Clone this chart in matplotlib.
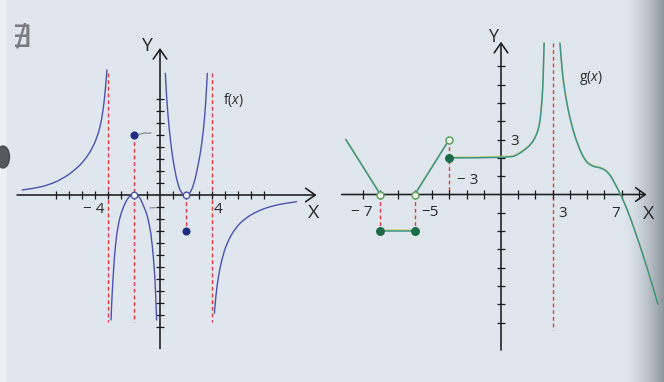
import numpy as np
import matplotlib
matplotlib.use("Agg")
import matplotlib.pyplot as plt
import matplotlib.patheffects as pe
from matplotlib.patches import Ellipse, PathPatch
from matplotlib.path import Path

plt.rcParams["font.family"] = ["Open Sans", "DejaVu Sans"]
plt.rcParams["mathtext.fontset"] = "custom"
plt.rcParams["mathtext.rm"] = "Open Sans"
plt.rcParams["mathtext.it"] = "Open Sans:italic"

# ---------------- f(x) ----------------
F_LEFT_X = [-10.59, -9.62, -8.59, -7.56, -6.54, -5.77, -5.13, -4.74, -4.49, -4.31, -4.18, -4.08]
F_LEFT_Y = [0.42, 0.56, 0.83, 1.31, 2.08, 2.92, 4.03, 5.14, 6.25, 7.64, 9.03, 10.42]

F_MID_X = [-3.77, -3.72, -3.62, -3.51, -3.33, -3.08, -2.88, -2.69, -2.5, -2.3, -2.0,
           -1.7, -1.5, -1.36, -1.15, -0.95, -0.69, -0.51, -0.38, -0.31, -0.26]
F_MID_Y = [-10.42, -9.03, -7.08, -5.14, -3.19, -1.81, -1.2, -0.69, -0.3, -0.08, 0.0,
           -0.08, -0.3, -0.69, -1.2, -1.81, -3.19, -5.14, -7.08, -9.03, -10.42]

F_UP_X = [0.41, 0.49, 0.62, 0.82, 1.08, 1.38, 1.64, 1.82, 2.0, 2.18, 2.32, 2.59, 2.92, 3.23, 3.44, 3.56, 3.64]
F_UP_Y = [10.14, 8.47, 6.53, 4.31, 2.36, 0.83, 0.19, 0.04, 0.0, 0.04, 0.19, 0.83, 2.36, 4.31, 6.53, 8.47, 10.14]

F_RIGHT_X = [4.18, 4.31, 4.49, 4.74, 5.13, 5.77, 6.54, 7.56, 8.59, 9.62, 10.51]
F_RIGHT_Y = [-9.86, -8.19, -6.81, -5.42, -4.03, -2.78, -1.94, -1.31, -0.92, -0.69, -0.56]

F_ASYMPTOTES = [-4, 4]
F_FILLED_X = [-2, 2]
F_FILLED_Y = [5, -3]
F_OPEN_X = [-2, 2]
F_OPEN_Y = [0, 0]
F_XTICKS = [v for v in range(-8, 9) if v != 0]
F_YTICKS = [v for v in range(-11, 9) if v != 0]

# pencil notes on the page
PENCIL_X = [-1.75, -1.45, -1.2, -0.95, -0.7]
PENCIL_Y = [5.0, 5.08, 5.2, 5.12, 5.18]

# ---------------- g(x) ----------------
G_SEG1_X = [-9, -7]
G_SEG1_Y = [3, 0]
G_SEG2_X = [-7, -5]
G_SEG2_Y = [-2, -2]
G_SEG3_X = [-5, -3]
G_SEG3_Y = [0, 3]
G_MID_X = [-3, 0.5, 0.97, 1.35, 1.74, 2.03, 2.22, 2.32, 2.42, 2.46, 2.50]
G_MID_Y = [2, 2.0, 2.18, 2.42, 2.73, 3.18, 3.73, 4.45, 5.73, 6.82, 8.27]
G_RIGHT_X = [3.42, 3.53, 3.74, 4.05, 4.47, 4.89, 5.2, 5.42, 5.84, 6.26, 6.58, 6.94,
             7.32, 7.74, 8.26, 8.68, 9.11]
G_RIGHT_Y = [8.27, 6.82, 5.36, 3.91, 2.64, 1.82, 1.6, 1.51, 1.45, 1.18, 0.64, 0.0,
             -0.82, -1.91, -3.36, -4.64, -6.0]
G_ASYMPTOTE = 3
G_FILLED_X = [-7, -5, -3]
G_FILLED_Y = [-2, -2, 2]
G_OPEN_X = [-7, -5, -3]
G_OPEN_Y = [0, 0, 3]
G_XTICKS = [v for v in range(-8, 9) if v != 0]
G_YTICKS = [v for v in range(-7, 8) if v != 0]

# ---------------- style ----------------
W, H = 664, 382
BG = np.array([223, 230, 238]) / 255
AX_C = "#1c1c1e"
TXT_C = "#2a2a2c"
RED = "#e63a42"
F_C = "#4b52ad"
F_DOT = "#1f2c7f"
G_C = "#3b9487"
G_DOT = "#1d6a46"
G_RING = "#5c9f5e"
DASH = (2.8, 2.0)

fig = plt.figure(figsize=(W / 100, H / 100), dpi=100)

# page background with the shaded binding edge on the right
bg = fig.add_axes([0, 0, 1, 1])
bg.set_xlim(0, W)
bg.set_ylim(H, 0)
bg.axis("off")
xs = np.arange(W)
t = np.clip((xs - 622) / 42, 0, 1) ** 1.6
dark = np.array([140, 148, 156]) / 255
row = BG[None, :] + t[:, None] * (dark - BG)[None, :]
row[xs < 7] = np.array([238, 241, 244]) / 255
bg.imshow(row[None, :, :], extent=(0, W, H, 0), aspect="auto", zorder=0)
bg.add_patch(Ellipse((3, 157), 13, 22, color="#3b4046", alpha=0.85, zorder=1))
bg.text(22, 38, "\u2204", fontsize=22, color="#7a7c7f", ha="center", va="center",
        family=["DejaVu Sans"], zorder=1)


def curve(ax, x, y, **kw):
    """Draw a smooth quadratic-Bezier path guided by the listed points."""
    pts = np.column_stack([x, y])
    verts = [pts[0]]
    codes = [Path.MOVETO]
    for i in range(1, len(pts) - 1):
        end = pts[-1] if i == len(pts) - 2 else (pts[i] + pts[i + 1]) / 2
        verts += [pts[i], end]
        codes += [Path.CURVE3, Path.CURVE3]
    if len(pts) == 2:
        verts.append(pts[1])
        codes.append(Path.LINETO)
    patch = PathPatch(Path(verts, codes), fill=False, capstyle="round", **kw)
    ax.add_patch(patch)
    return patch


def draw_axes(ax, xr, yr, xticks, yticks, tx, ty):
    arrow = dict(arrowstyle="->,head_length=0.5,head_width=0.35", lw=1.15, color=AX_C,
                 mutation_scale=14, shrinkA=0, shrinkB=0)
    ax.annotate("", xy=(xr[1], 0), xytext=(xr[0], 0), arrowprops=arrow, zorder=3)
    ax.annotate("", xy=(0, yr[1]), xytext=(0, yr[0]), arrowprops=arrow, zorder=3)
    ax.vlines(xticks, -ty, ty, color=AX_C, lw=0.9, zorder=3)
    ax.hlines(yticks, -tx, tx, color=AX_C, lw=0.9, zorder=3)


def dashed(ax, x, y0, y1):
    ax.plot([x, x], [y0, y1], color=RED, lw=1.0, dashes=DASH, zorder=2)


# ---------------- left panel: f ----------------
axL = fig.add_axes([0, 0, 330 / W, 1])
axL.set_xlim((0 - 160) / 13, (330 - 160) / 13)
axL.set_ylim((195 - 382) / 12, 195 / 12)
axL.axis("off")

draw_axes(axL, (-11.0, 12.05), (-12.8, 12.25), F_XTICKS, F_YTICKS, 0.3, 0.33)
for a in F_ASYMPTOTES:
    dashed(axL, a, 10.2, -10.6)
dashed(axL, F_FILLED_X[0], F_FILLED_Y[0], -10.6)
dashed(axL, F_FILLED_X[1], F_OPEN_Y[1], F_FILLED_Y[1])

for xx, yy in [(F_LEFT_X, F_LEFT_Y), (F_MID_X, F_MID_Y), (F_UP_X, F_UP_Y), (F_RIGHT_X, F_RIGHT_Y)]:
    curve(axL, xx, yy, edgecolor=F_C, lw=1.0, zorder=4)
curve(axL, PENCIL_X, PENCIL_Y, edgecolor="#8d9196", lw=1.0, zorder=4)
axL.plot([-0.75, -0.38], [-1.08, -1.05], color="#8d9196", lw=0.9, zorder=4)

axL.plot(F_FILLED_X, F_FILLED_Y, "o", ms=4.8, color=F_DOT, zorder=5)
axL.plot(F_OPEN_X, F_OPEN_Y, "o", ms=4.6, mfc="white", mec=F_C, mew=1.0, zorder=5)

axL.text(-1.04, 12.45, "Y", fontsize=14, color=TXT_C, ha="center", va="center")
axL.text(11.8, -1.54, "X", fontsize=14, color=TXT_C, ha="center", va="center")
axL.text(-5.13, -1.17, "\u2212 4", fontsize=11, color=TXT_C, ha="center", va="center")
axL.text(4.5, -1.17, "4", fontsize=11, color=TXT_C, ha="center", va="center")
axL.text(5.62, 7.92, r"f($\mathit{x}$)", fontsize=10, color=TXT_C, ha="center", va="center")

# ---------------- right panel: g ----------------
axR = fig.add_axes([330 / W, 0, 334 / W, 1])
axR.set_xlim((330 - 501) / 17.24, (664 - 501) / 17.24)
axR.set_ylim((194.5 - 382) / 18.3, 194.5 / 18.3)
axR.axis("off")

draw_axes(axR, (-9.25, 8.45), (-8.5, 8.35), G_XTICKS, G_YTICKS, 0.23, 0.22)
dashed(axR, G_ASYMPTOTE, 8.3, -7.4)
dashed(axR, G_OPEN_X[0], G_OPEN_Y[0], G_FILLED_Y[0])
dashed(axR, G_OPEN_X[1], G_OPEN_Y[1], G_FILLED_Y[1])
dashed(axR, G_OPEN_X[2], G_OPEN_Y[2], 0)

g_fx = [pe.SimpleLineShadow(offset=(0, 0.6), shadow_color="#cfcf5c", alpha=0.75), pe.Normal()]
for xx, yy in [(G_SEG1_X, G_SEG1_Y), (G_SEG2_X, G_SEG2_Y), (G_SEG3_X, G_SEG3_Y),
               (G_MID_X, G_MID_Y), (G_RIGHT_X, G_RIGHT_Y)]:
    curve(axR, xx, yy, edgecolor=G_C, lw=1.1, zorder=4, path_effects=g_fx)

axR.plot(G_FILLED_X, G_FILLED_Y, "o", ms=5.4, color=G_DOT, zorder=5)
axR.plot(G_OPEN_X, G_OPEN_Y, "o", ms=5.0, mfc="#fbfbf2", mec=G_RING, mew=1.1, zorder=5)

axR.text(-0.45, 8.58, "Y", fontsize=13, color=TXT_C, ha="center", va="center")
axR.text(8.58, -1.04, "X", fontsize=14, color=TXT_C, ha="center", va="center")
axR.text(-8.08, -0.98, "\u2212 7", fontsize=11, color=TXT_C, ha="center", va="center")
axR.text(-4.12, -0.98, "\u22125", fontsize=11, color=TXT_C, ha="center", va="center")
axR.text(-1.94, 0.74, "\u2212 3", fontsize=11, color=TXT_C, ha="center", va="center")
axR.text(0.77, 2.92, "3", fontsize=11, color=TXT_C, ha="center", va="center")
axR.text(3.57, -1.04, "3", fontsize=11, color=TXT_C, ha="center", va="center")
axR.text(6.66, -1.04, "7", fontsize=11, color=TXT_C, ha="center", va="center")
axR.text(5.22, 6.39, r"g($\mathit{x}$)", fontsize=10, color=TXT_C, ha="center", va="center")

fig.savefig("out.png", dpi=100, facecolor=BG)
